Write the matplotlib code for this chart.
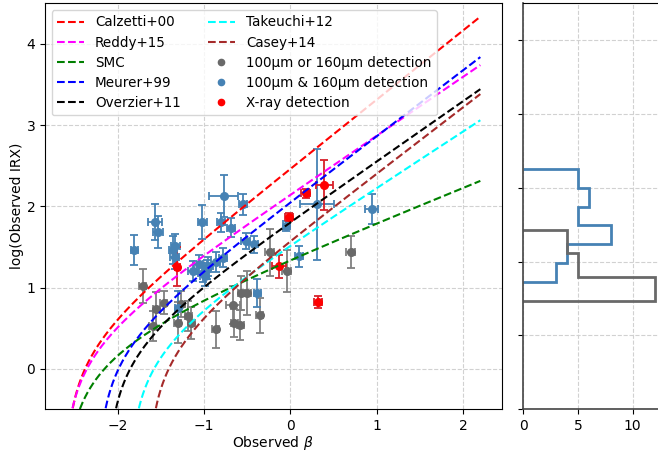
import numpy as np
import matplotlib
matplotlib.use("Agg")
import matplotlib.pyplot as plt
from matplotlib.lines import Line2D

# ---------------- data ----------------
# IRX-beta relations: log10( B * (10**(0.4*(c0 + c1*beta)) - 1) )
rel_names = ["Calzetti+00", "Reddy+15", "SMC", "Meurer+99", "Overzier+11", "Takeuchi+12", "Casey+14"]
rel_colors = ["red", "magenta", "green", "blue", "black", "cyan", "brown"]
rel_c0 = [5.548, 4.755, 2.810, 4.523, 3.923, 3.227, 3.36]
rel_c1 = [2.129, 1.812, 1.079, 2.029, 1.853, 1.735, 2.04]
rel_B = 1.75
beta_min, beta_max = -2.6, 2.2

# 100um or 160um detection (grey)
g_beta = [-1.709, -1.554, -1.465, -1.593, -1.264, -1.303, -1.179, -1.148, -0.866,
          -0.668, -0.567, -0.498, -0.651, -0.579, -0.355, -0.239, -0.042, 0.697]
g_irx = [1.017, 0.730, 0.813, 0.525, 0.792, 0.566, 0.648, 0.566, 0.484,
         0.788, 0.932, 0.936, 0.566, 0.535, 0.656, 1.432, 1.202, 1.436]
g_xerr = [0.04, 0.04, 0.04, 0.04, 0.04, 0.04, 0.04, 0.04, 0.04,
          0.08, 0.04, 0.04, 0.04, 0.04, 0.04, 0.05, 0.05, 0.05]
g_yerr = [0.21, 0.21, 0.14, 0.185, 0.16, 0.25, 0.185, 0.2, 0.225,
          0.235, 0.215, 0.27, 0.17, 0.185, 0.215, 0.29, 0.26, 0.2]

# 100um & 160um detection (blue)
b_beta = [-1.806, -1.562, -1.531, -1.36, -1.33, -1.34, -1.02, -0.771, -0.549,
          -0.804, -0.687, -0.518, -0.425, -0.781, -0.866, -1.129, -1.06, -1.013,
          -0.967, -0.99, -0.95, -0.045, 0.101, 0.31, 0.941, -0.385, -1.30]
b_irx = [1.461, 1.81, 1.683, 1.46, 1.515, 1.379, 1.806, 2.13, 2.026,
         1.803, 1.737, 1.572, 1.531, 1.367, 1.313, 1.202, 1.285, 1.182,
         1.223, 1.14, 1.26, 1.76, 1.383, 2.023, 1.97, 0.935, 0.751]
b_xerr = [0.04, 0.08, 0.06, 0.05, 0.05, 0.05, 0.05, 0.165, 0.05,
          0.05, 0.05, 0.05, 0.05, 0.05, 0.05, 0.05, 0.05, 0.05,
          0.05, 0.05, 0.05, 0.04, 0.05, 0.2, 0.078, 0.04, 0.04]
b_yerr = [0.19, 0.22, 0.2, 0.17, 0.15, 0.15, 0.205, 0.26, 0.13,
          0.12, 0.12, 0.1, 0.1, 0.12, 0.12, 0.12, 0.12, 0.12,
          0.12, 0.12, 0.12, 0.06, 0.13, 0.68, 0.185, 0.17, 0.2]

# X-ray detection (red)
r_beta = [-1.31, -0.015, 0.179, 0.395, 0.322, -0.135]
r_irx = [1.256, 1.867, 2.159, 2.259, 0.82, 1.262]
r_xerr = [0.03, 0.05, 0.05, 0.1, 0.045, 0.08]
r_yerr = [0.24, 0.05, 0.06, 0.31, 0.07, 0.14]

# histograms (right panel)
hist_blue_edges = [1.729, 1.983, 2.237, 2.491, 2.745, 2.998, 3.252]
hist_blue_counts = [3, 4, 8, 5, 6, 5]
hist_grey_edges = [1.467, 1.789, 2.111, 2.430]
hist_grey_counts = [12, 5, 4]

# ---------------- figure ----------------
W, H = 658, 451
fig = plt.figure(figsize=(W / 100, H / 100), dpi=100)
bottom = 1 - 409.3 / H
height = (409.3 - 3.3) / H
ax = fig.add_axes([45 / W, bottom, (501.5 - 45) / W, height])
axh = fig.add_axes([523.3 / W, bottom, 137.8 / W, height])

grid_kw = dict(ls="--", color="0.82", lw=0.8)

# error-bar points
ax.errorbar(g_beta, g_irx, xerr=g_xerr, yerr=g_yerr, fmt="o", ms=5.5,
            color="dimgray", ecolor="gray", elinewidth=1.3, capsize=3, capthick=1.3, zorder=2)
ax.errorbar(b_beta, b_irx, xerr=b_xerr, yerr=b_yerr, fmt="o", ms=5.5,
            color="steelblue", ecolor="steelblue", elinewidth=1.3, capsize=3, capthick=1.3, zorder=2)
ax.errorbar(r_beta, r_irx, xerr=r_xerr, yerr=r_yerr, fmt="o", ms=5.5,
            color="red", ecolor="#d8202a", elinewidth=1.3, capsize=3, capthick=1.3, zorder=2)

# relations
beta = np.linspace(beta_min, beta_max, 2000)
handles = []
for name, col, c0, c1 in zip(rel_names, rel_colors, rel_c0, rel_c1):
    arg = rel_B * (10 ** (0.4 * (c0 + c1 * beta)) - 1)
    with np.errstate(invalid="ignore", divide="ignore"):
        y = np.where(arg > 0, np.log10(np.where(arg > 0, arg, 1)), np.nan)
    h, = ax.plot(beta, y, ls="--", color=col, lw=1.5, label=name, zorder=3)
    handles.append(h)

for lab, col in [("100\u03bcm or 160\u03bcm detection", "dimgray"),
                 ("100\u03bcm & 160\u03bcm detection", "steelblue"),
                 ("X-ray detection", "red")]:
    handles.append(Line2D([], [], ls="", marker="o", ms=4.5, color=col, label=lab))

ax.set_xlim(-2.84, 2.445)
ax.set_ylim(-0.5, 4.5)
ax.set_xticks([-2, -1, 0, 1, 2])
ax.set_yticks([0, 1, 2, 3, 4])
ax.grid(True, **grid_kw)
ax.set_axisbelow(True)
ax.tick_params(labelsize=10)
ax.set_xlabel("Observed $\\beta$", fontsize=10, labelpad=0.5)
ax.set_ylabel("log(Observed IRX)", fontsize=10, labelpad=1.5)
ax.legend(handles=handles, ncol=2, loc="upper left", fontsize=9.75,
          labelspacing=0.45, framealpha=0.8)

# histogram panel
axh.stairs(hist_blue_counts, hist_blue_edges, orientation="horizontal", baseline=0,
           color="steelblue", lw=2)
axh.stairs(hist_grey_counts, hist_grey_edges, orientation="horizontal", baseline=0,
           color="dimgray", lw=2)
axh.set_xlim(0, 12.6)
axh.set_ylim(0, 5.5)
axh.set_yticks([0, 1, 2, 3, 4, 5])
axh.set_yticklabels([])
axh.set_xticks([0, 5, 10])
axh.grid(True, **grid_kw)
axh.set_axisbelow(True)
axh.tick_params(labelsize=10)
axh.spines["right"].set_visible(False)
for s in ["left", "bottom"]:
    axh.spines[s].set_color("#444444")
    axh.spines[s].set_linewidth(1.2)

fig.savefig("out.png", dpi=100)
